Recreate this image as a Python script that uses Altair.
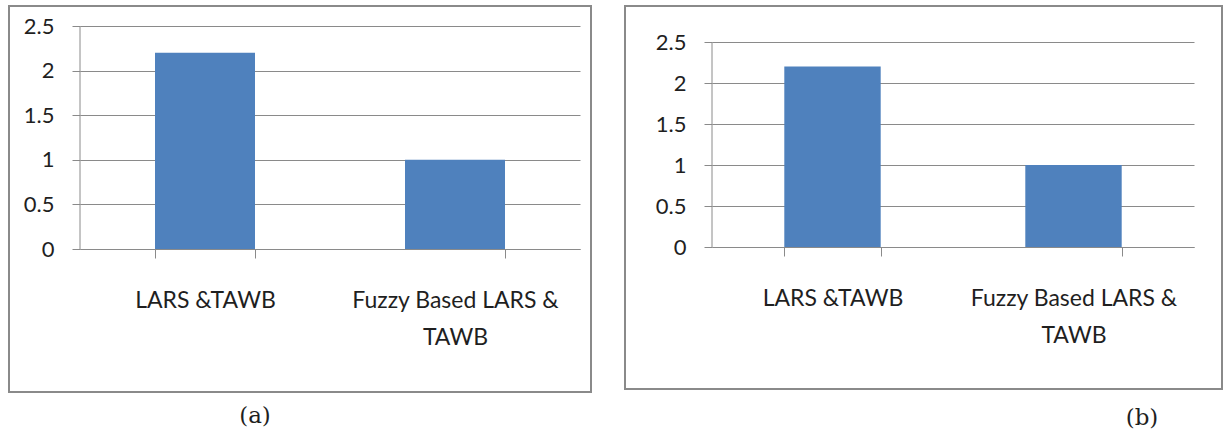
import altair as alt
import pandas as pd

# ---- data ----
methods = ["LARS &TAWB", "Fuzzy Based LARS & TAWB"]
values_a = [2.2, 1.0]
values_b = [2.2, 1.0]
y_ticks = [0, 0.5, 1, 1.5, 2, 2.5]
captions = ["(a)", "(b)"]

GRAY = "#8a8a8a"
TXT = "#1f1f1f"
BAR = "#4F81BD"

label_expr = ("datum.label == 'Fuzzy Based LARS & TAWB' ? "
              "['Fuzzy Based  LARS &', 'TAWB'] : datum.label")


def panel(values, caption, width, height, ymax, border, cap_xy):
    df = pd.DataFrame({"method": methods, "value": values})
    xenc = alt.X(
        "method:N", sort=methods,
        scale=alt.Scale(paddingInner=0.6, paddingOuter=0.3),
        axis=alt.Axis(title=None, tickBand="extent", tickSize=9,
                      tickColor=GRAY, domainColor=GRAY, labelAngle=0,
                      labelFont="Lato", labelFontSize=23, labelColor=TXT,
                      labelPadding=31, labelLineHeight=37, labelLimit=500,
                      labelExpr=label_expr, grid=False),
    )
    yscale = alt.Scale(domain=[0, ymax], nice=False)
    bars = alt.Chart(df).mark_bar(color=BAR).encode(
        x=xenc,
        y=alt.Y("value:Q", scale=yscale,
                axis=alt.Axis(title=None, values=y_ticks, format=".1~f",
                              tickSize=8, tickColor=GRAY, gridColor=GRAY,
                              gridOpacity=1, domain=False,
                              labelFont="Lato", labelFontSize=22,
                              labelColor=TXT, labelPadding=18)),
    )
    one = pd.DataFrame({"k": [0]})
    yline = alt.Chart(one).mark_rule(color=GRAY, strokeWidth=1).encode(
        x=alt.value(0), y=alt.datum(0, scale=yscale), y2=alt.datum(y_ticks[-1]),
    )
    frame = alt.Chart(one).mark_rect(fill=None, stroke=GRAY, strokeWidth=2).encode(
        x=alt.value(border[0]), x2=alt.value(border[1]),
        y=alt.value(border[2]), y2=alt.value(border[3]),
    )
    cap = alt.Chart(one).mark_text(
        font="DejaVu Serif", fontSize=23, color=TXT, align="center", baseline="middle"
    ).encode(x=alt.value(cap_xy[0]), y=alt.value(cap_xy[1]), text=alt.value(caption))
    return alt.layer(bars, yline, frame, cap).properties(width=width, height=height)


pa = panel(values_a, captions[0], 500, 223, 2.5, (-71, 511, -20, 366), (175, 390))
pb = panel(values_b, captions[1], 482, 221, 221 / 82, (-87, 510, -20, 363), (430, 392))

chart = alt.hconcat(pa, pb, spacing=132, bounds="flush").properties(
    padding={"left": 8, "top": 5, "right": 0, "bottom": 0},
    background="white",
).configure_view(stroke=None)

chart.save("out.html", embed_options={"renderer": "svg", "actions": False})
